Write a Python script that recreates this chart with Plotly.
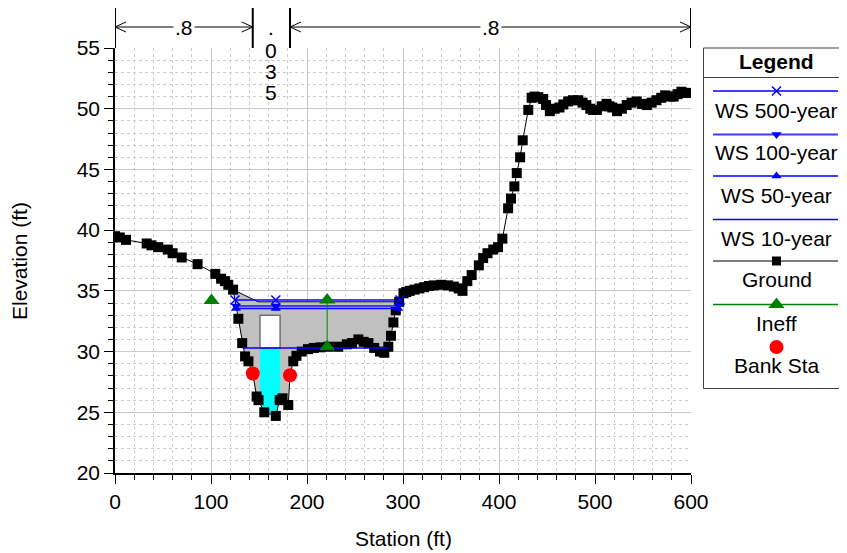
import numpy as np
import plotly.graph_objects as go

# ---------------- data ----------------
ground_sta = [0, 5, 11.5, 33, 38, 45, 55, 60, 69.5, 86, 104.5, 110.5, 114.5, 118, 123,
              128.5, 132.5, 135.5, 139, 143.5, 147.5, 149.5, 155.5, 167.5, 171.5, 174.5,
              180.5, 182.3, 185.7, 189, 194.5, 201, 207, 214, 222, 232.5, 241.5, 247,
              253.5, 259, 264, 270, 276, 280.5, 284.7, 287.5, 290, 292.5, 296, 300.5,
              303.5, 307, 312, 317, 322, 327, 332, 340, 347, 353, 358, 362, 367, 371.5,
              379, 383.5, 388, 394, 399, 403.5, 409.5, 412.5, 416, 418.5, 422, 424.7,
              430.5, 434, 437, 441, 446, 449, 453, 458, 463, 467, 472, 477, 482.5, 487,
              491, 495, 498, 502, 507, 512, 515, 518, 523, 528, 533, 538, 543.5, 549,
              554, 559, 564, 569, 573, 578, 582, 586, 590, 595, 600]
ground_elev = [39.5, 39.4, 39.2, 38.9, 38.75, 38.6, 38.4, 38.1, 37.75, 37.2, 36.4, 36.0, 35.8, 35.5, 35.1,
               32.7, 30.7, 29.6, 29.2, 28.2, 26.3, 26.0, 25.0, 24.7, 26.0, 26.15,
               25.6, 28.05, 29.2, 29.65, 30.0, 30.2, 30.3, 30.35, 30.4, 30.4, 30.6, 30.7,
               31.0, 30.8, 30.7, 30.3, 30.0, 29.9, 30.4, 31.3, 32.4, 33.4, 34.1, 34.8,
               34.9, 35.0, 35.1, 35.2, 35.3, 35.4, 35.45, 35.5, 35.45, 35.35, 35.2, 35.0, 35.8, 36.3,
               37.1, 37.7, 38.1, 38.4, 38.6, 39.3, 41.8, 42.6, 43.6, 44.7, 46.0, 47.4,
               49.9, 50.9, 51.0, 50.95, 50.8, 50.3, 49.8, 50.0, 50.1, 50.35, 50.6, 50.7, 50.7, 50.5,
               50.3, 50.0, 49.9, 49.9, 50.2, 50.4, 50.2, 50.1, 49.8, 50.0, 50.3, 50.5, 50.6, 50.4,
               50.3, 50.5, 50.7, 50.9, 51.1, 51.0, 51.0, 51.2, 51.4, 51.3, 51.3]

bank_sta = [143.5, 182.3]
bank_elev = [28.2, 28.05]

ws500_sta = [125, 167.5, 297]
ws500_elev = [34.25, 34.25, 34.25]
ws100_sta = [126, 167.5, 295.5]
ws100_elev = [33.75, 33.75, 33.75]
ws50_sta = [126, 167.5, 295]
ws50_elev = [33.55, 33.55, 33.55]
ws10_sta = [133, 285]
ws10_elev = [30.3, 30.3]

ineff_sta = [100.5, None, 221, 221]
ineff_elev = [34.2, None, 30.4, 34.25]

ineff_top_sta = [123, 149, 296]
ineff_top_elev = [35.1, 34.1, 34.1]

opening_sta = [151, 172]
opening_top = 33.0

n_labels = [".8", ".035", ".8"]

legend_names = ["WS 500-year", "WS 100-year", "WS 50-year", "WS 10-year", "Ground", "Ineff", "Bank Sta"]

# ---------------- geometry helpers ----------------
OFF = 8                      # page body margin of the html
W, H = 847 - OFF, 553 - OFF  # figure size
PX0, PX1, PY0, PY1 = 115, 691, 48, 473   # plot area in window pixels
XR = [0, 600]
YR = [20, 55]
FS = 21


def pxx(p):
    return (p - OFF) / W


def py(p):
    return 1 - (p - OFF) / H


gs = np.array(ground_sta, float)
ge = np.array(ground_elev, float)

# gray (ineffective) water polygon: top line then ground back
mask = (gs >= ineff_top_sta[0]) & (gs <= ineff_top_sta[-1])
gray_x = list(ineff_top_sta) + list(gs[mask][::-1])
gray_y = list(ineff_top_elev) + list(ge[mask][::-1])

# cyan water below WS 10 inside the opening
a, b = opening_sta
m2 = (gs > a) & (gs < b)
cy_x = [a, b, b] + list(gs[m2][::-1]) + [a]
cy_y = [ws10_elev[0], ws10_elev[0], float(np.interp(b, gs, ge))] + list(ge[m2][::-1]) + [float(np.interp(a, gs, ge))]

FONT = "Arial, Liberation Sans, sans-serif"
BLUE = "#0000ff"
BLUE2 = "#3c3cff"
GREEN = "#008000"

fig = go.Figure()

fig.add_trace(go.Scatter(x=gray_x, y=gray_y, fill="toself", fillcolor="#c0c0c0",
                         mode="lines", line=dict(width=0), hoverinfo="skip", showlegend=False))
fig.add_trace(go.Scatter(x=cy_x, y=cy_y, fill="toself", fillcolor="#00ffff",
                         mode="lines", line=dict(width=0), hoverinfo="skip", showlegend=False))
fig.add_trace(go.Scatter(x=[a, b, b, a, a], y=[ws10_elev[0], ws10_elev[0], opening_top, opening_top, ws10_elev[0]],
                         fill="toself", fillcolor="white", mode="lines",
                         line=dict(color="#707070", width=1.5), showlegend=False))
fig.add_trace(go.Scatter(x=ineff_top_sta, y=ineff_top_elev, mode="lines",
                         line=dict(color="black", width=1), showlegend=False))

# ground
fig.add_trace(go.Scatter(x=ground_sta, y=ground_elev, mode="lines+markers",
                         line=dict(color="black", width=1),
                         marker=dict(symbol="square", size=10, color="black"), showlegend=False))

# water surfaces
fig.add_trace(go.Scatter(x=ws10_sta, y=ws10_elev, mode="lines", line=dict(color=BLUE, width=1.5), showlegend=False))
fig.add_trace(go.Scatter(x=ws50_sta, y=ws50_elev, mode="lines+markers", line=dict(color=BLUE, width=1.5),
                         marker=dict(symbol="triangle-up", size=9, color=BLUE), showlegend=False))
fig.add_trace(go.Scatter(x=ws100_sta, y=ws100_elev, mode="lines+markers", line=dict(color=BLUE2, width=2),
                         marker=dict(symbol="triangle-down", size=9, color=BLUE), showlegend=False))
fig.add_trace(go.Scatter(x=ws500_sta, y=ws500_elev, mode="lines+markers", line=dict(color=BLUE, width=1.5),
                         marker=dict(symbol="x-thin", size=9, color=BLUE, line=dict(color=BLUE, width=1.5)),
                         showlegend=False))

# ineffective flow
fig.add_trace(go.Scatter(x=ineff_sta, y=ineff_elev, mode="lines+markers", line=dict(color=GREEN, width=1),
                         marker=dict(symbol="triangle-up", size=14, color=GREEN), showlegend=False))
# bank stations
fig.add_trace(go.Scatter(x=bank_sta, y=bank_elev, mode="markers",
                         marker=dict(symbol="circle", size=14, color="#ff0000"), showlegend=False))

# ---------------- custom legend (pixel axes x2/y2) ----------------
leg_line_y = [91, 134.5, 176, 219.5, 261, 304.5, None]
leg_lab_y = [110, 152, 195, 238, 279.5, 323, 365]
leg_line_col = [BLUE, BLUE2, BLUE, BLUE, "#505050", GREEN, None]
leg_sym = ["x-thin", "triangle-down", "triangle-up", None, "square", "triangle-up", "circle"]
leg_mcol = [BLUE, BLUE, BLUE, None, "black", GREEN, "#ff0000"]
leg_msize = [9, 9, 9, 0, 9, 14, 14]
LX0, LX1, LXC = 713, 838, 776.5
for i, name in enumerate(legend_names):
    if leg_line_y[i] is not None:
        fig.add_trace(go.Scatter(x=[LX0, LX1], y=[leg_line_y[i]] * 2, mode="lines",
                                 line=dict(color=leg_line_col[i], width=2 if i == 1 else 1.5),
                                 xaxis="x2", yaxis="y2", showlegend=False, hoverinfo="skip"))
    if leg_sym[i] is not None:
        my = leg_line_y[i] if leg_line_y[i] is not None else 347
        fig.add_trace(go.Scatter(x=[LXC], y=[my], mode="markers",
                                 marker=dict(symbol=leg_sym[i], size=leg_msize[i], color=leg_mcol[i],
                                             line=dict(color=leg_mcol[i], width=1.5) if leg_sym[i] == "x-thin" else dict(width=0)),
                                 xaxis="x2", yaxis="y2", showlegend=False, hoverinfo="skip"))

annotations = []
for i, name in enumerate(legend_names):
    annotations.append(dict(x=LXC, y=leg_lab_y[i], xref="x2", yref="y2", text=name, showarrow=False,
                            xanchor="center", yanchor="middle",
                            font=dict(family=FONT, size=FS, color="black")))
annotations.append(dict(x=LXC, y=61.5, xref="x2", yref="y2", text="<b>Legend</b>", showarrow=False,
                        xanchor="center", yanchor="middle",
                        font=dict(family=FONT, size=FS, color="black")))

shapes = [
    dict(type="rect", xref="x2", yref="y2", x0=703.5, x1=852, y0=48, y1=388.5,
         line=dict(color="#404040", width=1)),
    dict(type="line", xref="x2", yref="y2", x0=703.5, x1=852, y0=77.5, y1=77.5,
         line=dict(color="#404040", width=1)),
]

# ---------------- Manning's n bar above plot ----------------
n_bounds = [XR[0], bank_sta[0], bank_sta[1], XR[1]]
ft_per_px = (XR[1] - XR[0]) / (PX1 - PX0)

ARROW_Y = 27
for xb in n_bounds:
    shapes.append(dict(type="line", xref="x", yref="paper", x0=xb, x1=xb, y0=py(6), y1=py(48),
                       line=dict(color="black", width=2)))
for k in range(3):
    l, r = n_bounds[k], n_bounds[k + 1]
    mid = (l + r) / 2
    if r - l > 100:
        shapes.append(dict(type="line", xref="x", yref="paper", x0=l, x1=r, y0=py(ARROW_Y), y1=py(ARROW_Y),
                           line=dict(color="black", width=1)))
        d = 11 * ft_per_px
        shapes.append(dict(type="path", xref="x", yref="paper",
                           path=f"M {l + d},{py(ARROW_Y - 5)} L {l},{py(ARROW_Y)} L {l + d},{py(ARROW_Y + 5)}",
                           line=dict(color="black", width=1)))
        shapes.append(dict(type="path", xref="x", yref="paper",
                           path=f"M {r - d},{py(ARROW_Y - 5)} L {r},{py(ARROW_Y)} L {r - d},{py(ARROW_Y + 5)}",
                           line=dict(color="black", width=1)))
        annotations.append(dict(x=mid, y=py(ARROW_Y), xref="x", yref="paper", text=n_labels[k],
                                showarrow=False, bgcolor="white", borderpad=1,
                                xanchor="center", yanchor="middle",
                                font=dict(family=FONT, size=FS, color="black")))
    else:
        ys = [27, 50, 71, 92.5]
        for ch, yy in zip(n_labels[k], ys):
            annotations.append(dict(x=mid, y=py(yy), xref="x", yref="paper", text=ch, showarrow=False,
                                    xanchor="center", yanchor="middle",
                                    font=dict(family=FONT, size=FS, color="black")))

# axis titles
annotations.append(dict(x=pxx((PX0 + PX1) / 2), y=py(538), xref="paper", yref="paper", text="Station (ft)",
                        showarrow=False, xanchor="center", yanchor="middle",
                        font=dict(family=FONT, size=FS, color="black")))
annotations.append(dict(x=pxx(20), y=py(261), xref="paper", yref="paper", text="Elevation (ft)",
                        textangle=-90, showarrow=False, xanchor="center", yanchor="middle",
                        font=dict(family=FONT, size=FS, color="black")))

grid_major = "#c8c8c8"
grid_minor = "#cccccc"

fig.update_layout(
    width=W, height=H,
    margin=dict(l=0, r=0, t=0, b=0),
    paper_bgcolor="white", plot_bgcolor="white",
    font=dict(family=FONT, size=FS, color="black"),
    showlegend=False,
    xaxis=dict(domain=[pxx(PX0), pxx(PX1)], range=XR, dtick=100, tick0=0,
               showgrid=True, gridcolor=grid_major, gridwidth=1,
               showline=True, linecolor="black", linewidth=1.5, mirror=False,
               ticks="outside", ticklen=9, tickcolor="black", tickwidth=1.2,
               zeroline=False, automargin=False, anchor="y",
               tickfont=dict(family=FONT, size=FS, color="black"),
               minor=dict(dtick=20, showgrid=True, gridcolor=grid_minor, griddash="3px,3px", gridwidth=1,
                          ticks="outside", ticklen=5, tickcolor="black")),
    yaxis=dict(domain=[py(PY1), py(PY0)], range=YR, dtick=5, tick0=0,
               showgrid=True, gridcolor=grid_major, gridwidth=1,
               showline=True, linecolor="black", linewidth=1.5, mirror=False,
               ticks="outside", ticklen=9, tickcolor="black", tickwidth=1.2,
               zeroline=False, automargin=False, anchor="x",
               tickfont=dict(family=FONT, size=FS, color="black"),
               minor=dict(dtick=1, showgrid=True, gridcolor=grid_minor, griddash="3px,3px", gridwidth=1,
                          ticks="outside", ticklen=5, tickcolor="black")),
    xaxis2=dict(domain=[pxx(700), 1], range=[700, 847], visible=False, anchor="y2", fixedrange=True),
    yaxis2=dict(domain=[0, 1], range=[553, OFF], visible=False, anchor="x2", fixedrange=True),
    shapes=shapes,
    annotations=annotations,
)

fig.write_html("out.html")
